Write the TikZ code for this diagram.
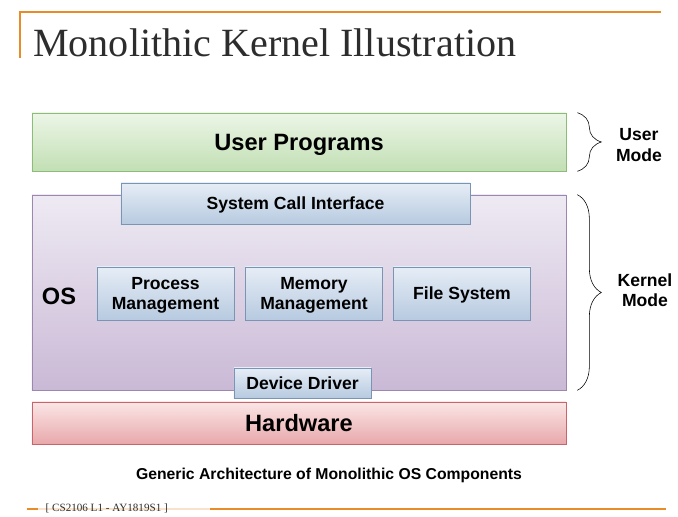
\documentclass[tikz,border=0pt]{standalone}
\usepackage{fontspec}
\setmainfont{Liberation Serif}
\setsansfont{Liberation Sans}
\usetikzlibrary{shapes,positioning,shadows,decorations.pathreplacing}
\definecolor{slideorange}{RGB}{232,140,40}
\definecolor{titlegray}{RGB}{45,45,45}
\definecolor{usertop}{RGB}{236,246,231}
\definecolor{userbottom}{RGB}{194,223,180}
\definecolor{userborder}{RGB}{140,188,120}
\definecolor{ostop}{RGB}{238,234,243}
\definecolor{osbottom}{RGB}{202,185,214}
\definecolor{osborder}{RGB}{155,135,176}
\definecolor{parttop}{RGB}{230,237,246}
\definecolor{partbottom}{RGB}{183,202,224}
\definecolor{partborder}{RGB}{122,149,180}
\definecolor{hwtop}{RGB}{251,230,230}
\definecolor{hwbottom}{RGB}{232,168,171}
\definecolor{hwborder}{RGB}{200,100,106}

\begin{document}
\begin{tikzpicture}[
    x=0.025cm, y=-0.025cm,
    layer/.style={rectangle, draw, minimum width=13.35cm, text depth=0pt, font=\sffamily\bfseries\fontsize{16.8}{20}\selectfont,
        drop shadow={shadow xshift=0.6pt, shadow yshift=-0.9pt, opacity=0.25}},
    part/.style={rectangle, draw=partborder, top color=parttop, bottom color=partbottom, text depth=0pt,
        align=center, font=\sffamily\bfseries\fontsize{12.5}{14.2}\selectfont,
        drop shadow={shadow xshift=0.6pt, shadow yshift=-0.9pt, opacity=0.25}},
    mode/.style={align=center, font=\sffamily\bfseries\fontsize{12.5}{14.5}\selectfont},
    modebrace/.style={draw, decorate, decoration={brace, amplitude=0.6cm}}
]
    \useasboundingbox (0,0) rectangle (678,517);

    % Slide frame and title
    \draw[slideorange, line width=0.9pt] (20,58) -- (20,12) -- (661,12);
    \node[anchor=base west, inner sep=0, text=titlegray, font=\fontsize{28.5}{32}\selectfont] (title) at (33,57) {Monolithic Kernel Illustration};

    % Layers
    \node[layer, draw=userborder, top color=usertop, bottom color=userbottom, minimum height=1.45cm] (user) at (299,142) {User Programs};
    \node[layer, draw=osborder, top color=ostop, bottom color=osbottom, minimum height=4.875cm] (os) at (299,292.5) {};
    \node[layer, draw=hwborder, top color=hwtop, bottom color=hwbottom, minimum height=1.05cm] (hw) at (299,423) {Hardware};
    \node[font=\sffamily\bfseries\fontsize{16.8}{20}\selectfont] (oslabel) at (59,296) {OS};

    % OS components
    \node[part, minimum width=8.725cm, minimum height=1.025cm] (sci) at (295.5,203.5) {System Call Interface};
    \foreach \n/\x/\t in {pm/165.5/{Process\\Management}, mm/314/{Memory\\Management}, fs/462/{File System}} {
        \node[part, minimum width=3.425cm, minimum height=1.325cm] (\n) at (\x,293.5) {\t};
    }
    \node[part, minimum width=3.425cm, minimum height=0.75cm] (dd) at (302.5,383) {Device Driver};

    % Modes
    \draw[modebrace] ([xshift=0.275cm]user.north east) -- ([xshift=0.275cm]user.south east);
    \node[mode] (usermode) at (639,145) {User\\Mode};
    \draw[modebrace] ([xshift=0.275cm]os.north east) -- ([xshift=0.275cm]os.south east);
    \node[mode] (kernelmode) at (645,290) {Kernel\\Mode};

    % Caption
    \node[font=\sffamily\bfseries\fontsize{11.2}{13}\selectfont] (caption) at (329,475) {Generic Architecture of Monolithic OS Components};

    % Footer
    \draw[slideorange, line width=0.9pt] (27,509) -- (38,509);
    \draw[slideorange!25, line width=0.9pt] (38,509) -- (210,509);
    \node[anchor=west, inner sep=1pt, text=titlegray, font=\fontsize{7.9}{9}\selectfont] (tag) at (44,508.5) {[ CS2106 L1 - AY1819S1 ]};
    \draw[slideorange, line width=0.9pt] (210,509) -- (666,509);
\end{tikzpicture}
\end{document}
